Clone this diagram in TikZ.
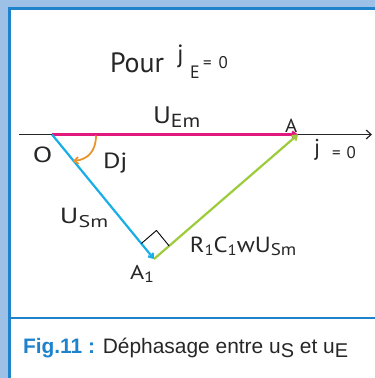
\documentclass[tikz,border=0pt]{standalone}
\usepackage{graphicx}
\usepackage{fontspec}
\setmainfont{PT Sans}
\newfontfamily\capfont{Liberation Sans}
\usetikzlibrary{arrows.meta,calc}
\definecolor{bandblue}{HTML}{9DC0E6}
\definecolor{frameblue}{HTML}{1E83CB}
\definecolor{vmag}{HTML}{E2197C}
\definecolor{vcyan}{HTML}{19AEE6}
\definecolor{vgreen}{HTML}{9CCB3B}
\definecolor{vorange}{HTML}{E8952E}
\newcommand{\fs}[1]{\fontsize{#1}{#1}\selectfont}
\newcommand{\dn}[3]{\raisebox{-#1bp}{\fs{#2}#3}}
\newcommand{\wide}[2]{\scalebox{#1}[1]{#2}}
\begin{document}
\begin{tikzpicture}[x=1bp,y=-1bp,
  lbl/.style={inner sep=0pt,outer sep=0pt,anchor=base west,text=black!85},
  vec/.style={line width=2.2bp,-{Straight Barb[length=4bp,width=6bp]}},
  axisline/.style={line width=1.2bp,black!85,-{Straight Barb[length=5bp,width=9bp]}}]
\useasboundingbox (0,0) rectangle (375,378);
% frame
\fill[bandblue] (0,0) rectangle (375,8.5);
\fill[bandblue] (0,0) rectangle (9.5,378);
\draw[frameblue,line width=2.5bp] (9.5,378) -- (9.5,8.5) -- (375,8.5);
\draw[frameblue,line width=2.5bp] (9.5,318) -- (375,318);
% points
\coordinate (O) at (52,134.5);
\coordinate (A) at (298,134.5);
\coordinate (A1) at (154,259);
\coordinate (ax0) at (19,134.5);
\coordinate (ax1) at (372,134.5);
% axis and vectors
\draw[axisline] (ax0) -- (ax1);
\draw[vec,vmag] (O) -- (A);
\draw[vec,vcyan] (O) -- (A1);
\draw[vec,vgreen] (A1) -- (A);
% right angle mark
\coordinate (P1) at ($(A1)!20bp!(O)$);
\coordinate (P2) at ($(A1)!20bp!(A)$);
\coordinate (P3) at ($(P1)+(P2)-(A1)$);
\draw[black,line width=0.9bp] (P1) -- (P3) -- (P2);
% angle arc
\coordinate (arcS) at (96,135.5);
\coordinate (arcE) at (73,161);
\draw[vorange,line width=1.8bp,-{Straight Barb[length=4bp,width=7bp]}] (arcS) .. controls (96,151) and (88,159.5) .. (arcE);
% labels
\node[lbl] (pour) at (110,72) {\fs{28}Pour};
\node[lbl] (jE) at (177,62) {\fs{25}j};
\node[lbl] (E) at (190,78) {\fs{18}E};
\node[lbl] (eqE) at (203,68) {\fs{17}=\hspace{7bp}0};
\node[lbl] (UEm) at (153,123) {\fs{24}\wide{1.15}{U\dn{4}{19}{Em}}};
\node[lbl] (lA) at (285,132) {\fs{19}\wide{1.1}{A}};
\node[lbl] (lO) at (33,162) {\fs{22}\wide{1.3}{O}};
\node[lbl] (Dj) at (103,168) {\fs{22}\wide{1.22}{Dj}};
\node[lbl] (j0) at (314,155.5) {\fs{23}j};
\node[lbl] (eq0) at (332,158) {\fs{17}=\hspace{6bp}0};
\node[lbl] (USm) at (60,223) {\fs{22}\wide{1.3}{U\dn{4}{17}{Sm}}};
\node[lbl] (lA1) at (130,279) {\fs{20}\wide{1.22}{A\dn{3}{15}{1}}};
\node[lbl] (RC) at (190,252) {\fs{22}\wide{1.12}{R\dn{3}{15}{1}C\dn{3}{15}{1}wU\dn{3}{17}{Sm}}};
\node[lbl] (cap) at (23,353) {\capfont\fs{21}\textcolor{frameblue}{\bfseries Fig.11 :} Déphasage entre u\dn{4}{20}{S} et u\dn{4}{20}{E}};
\end{tikzpicture}
\end{document}
